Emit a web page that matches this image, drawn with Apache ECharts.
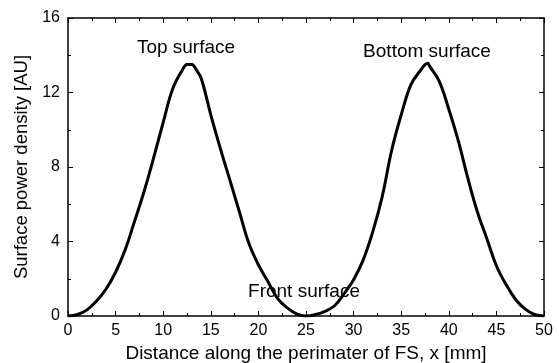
<!DOCTYPE html>
<html>
<head>
<meta charset="utf-8">
<script src="https://cdn.jsdelivr.net/npm/echarts@6/dist/echarts.min.js"></script>
<style>
  html, body { margin: 0; padding: 0; background: #fff; }
  #chart { width: 559px; height: 363px; }
</style>
</head>
<body>
<div id="chart"></div>
<script>
// distance along perimeter [mm]
const xValues = [0, 1, 2, 3, 4, 5, 6, 7, 8, 9, 10, 11, 12, 12.5, 13, 13.5, 14, 15, 16, 17, 18, 19, 20, 21, 22, 23, 24, 25,
  26, 27, 28, 29, 30, 31, 32, 33, 34, 35, 36, 36.9, 37.8, 38, 39, 40, 41, 42, 43, 44, 45, 46, 47, 48, 49, 50];
// surface power density [AU]
const yValues = [0, 0.08, 0.33, 0.8, 1.45, 2.35, 3.55, 5.1, 6.7, 8.5, 10.4, 12.2, 13.2, 13.5, 13.5, 13.2, 12.75, 10.8, 9.0, 7.3, 5.6, 3.9, 2.75, 1.85, 0.95, 0.45, 0.12, 0,
  0.08, 0.25, 0.55, 1.2, 1.95, 3.0, 4.5, 6.4, 8.9, 10.8, 12.4, 13.1, 13.57, 13.4, 12.6, 11.1, 9.4, 7.4, 5.6, 4.15, 2.7, 1.7, 0.9, 0.38, 0.08, 0];
const xTicks = [0, 5, 10, 15, 20, 25, 30, 35, 40, 45, 50];
const yTicks = [0, 4, 8, 12, 16];
const notes = [
  { text: "Top surface", x: 186, y: 48 },
  { text: "Bottom surface", x: 427, y: 52 },
  { text: "Front surface", x: 304, y: 292 }
];

const chart = echarts.init(document.getElementById("chart"));
const FONT = "Liberation Sans, Arial, sans-serif";

const lineStyle = { color: "#000", width: 1.5 };
const tickStyle = { inside: true, length: 5, lineStyle: { color: "#000", width: 1 } };
const minorStyle = { show: true, splitNumber: 2, length: 3, lineStyle: { color: "#000", width: 1 } };

const baseX = {
  type: "value",
  min: xTicks[0],
  max: xTicks[xTicks.length - 1],
  interval: xTicks[1] - xTicks[0],
  axisLine: { show: true, onZero: false, lineStyle },
  axisTick: tickStyle,
  minorTick: minorStyle,
  splitLine: { show: false },
};
const baseY = {
  type: "value",
  min: yTicks[0],
  max: yTicks[yTicks.length - 1],
  interval: yTicks[1] - yTicks[0],
  axisLine: { show: true, onZero: false, lineStyle },
  axisTick: tickStyle,
  minorTick: minorStyle,
  splitLine: { show: false },
};

chart.setOption({
  animation: false,
  backgroundColor: "#fff",
  grid: { left: 68, right: 15, top: 18, bottom: 47, containLabel: false, outerBoundsMode: "none" },
  xAxis: [
    Object.assign({}, baseX, {
      position: "bottom",
      name: "Distance along the perimater of FS, x [mm]",
      nameLocation: "middle",
      nameGap: 26,
      nameTextStyle: { fontFamily: FONT, fontSize: 19, color: "#000" },
      axisLabel: { fontFamily: FONT, fontSize: 16, color: "#000", margin: 7 },
    }),
    Object.assign({}, baseX, { position: "top", axisLabel: { show: false } }),
  ],
  yAxis: [
    Object.assign({}, baseY, {
      position: "left",
      name: "Surface power density [AU]",
      nameLocation: "middle",
      nameGap: 36,
      nameTextStyle: { fontFamily: FONT, fontSize: 18.5, color: "#000" },
      axisLabel: { fontFamily: FONT, fontSize: 16, color: "#000", margin: 8 },
    }),
    Object.assign({}, baseY, { position: "right", axisLabel: { show: false } }),
  ],
  graphic: notes.map((n) => ({
    type: "text",
    x: n.x,
    y: n.y,
    style: {
      text: n.text,
      fill: "#000",
      font: "19px " + FONT,
      textAlign: "center",
      textVerticalAlign: "middle",
    },
  })),
  series: [
    {
      type: "line",
      data: xValues.map((x, i) => [x, yValues[i]]),
      showSymbol: false,
      smooth: 0.4,
      lineStyle: { color: "#000", width: 3 },
    },
  ],
});
</script>
</body>
</html>
